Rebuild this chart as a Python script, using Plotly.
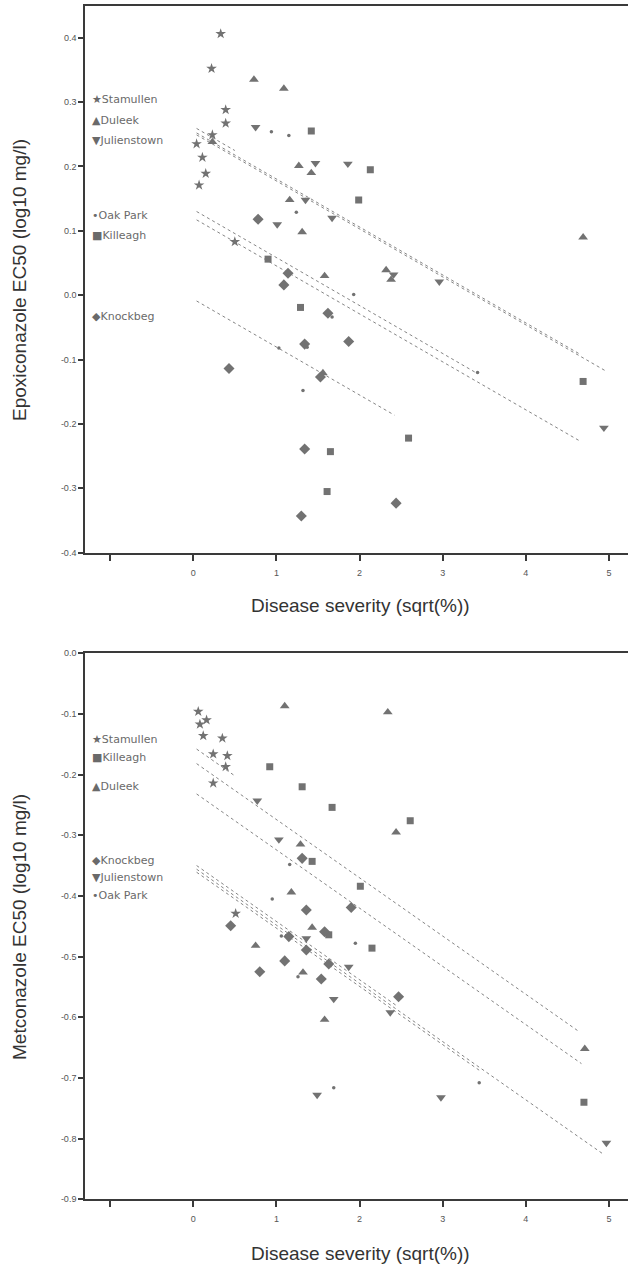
import plotly.graph_objects as go

W, H = 628, 1265
sites = ["Stamullen", "Duleek", "Julienstown", "Oak Park", "Killeagh", "Knockbeg"]
symbols = {"Stamullen": "star", "Duleek": "triangle-up", "Julienstown": "triangle-down",
           "Oak Park": "circle", "Killeagh": "square", "Knockbeg": "diamond"}
sizes = {"Stamullen": 8, "Duleek": 8.5, "Julienstown": 8.5, "Oak Park": 3.5, "Killeagh": 7, "Knockbeg": 8.5}
glyphs = {"Stamullen": "★", "Duleek": "▲", "Julienstown": "▼", "Oak Park": "•", "Killeagh": "■", "Knockbeg": "◆"}

# ---- Epoxiconazole (top) data ----
epo_stamullen_x = [0.33, 0.22, 0.39, 0.39, 0.23, 0.04, 0.11, 0.15, 0.07, 0.50]
epo_stamullen_y = [0.406, 0.352, 0.288, 0.267, 0.249, 0.235, 0.214, 0.189, 0.171, 0.083]
epo_duleek_x = [0.73, 1.09, 0.23, 1.27, 1.42, 1.16, 1.31, 1.58, 2.32, 2.38, 4.69, 1.56]
epo_duleek_y = [0.335, 0.321, 0.238, 0.201, 0.190, 0.148, 0.098, 0.030, 0.039, 0.024, 0.090, -0.121]
epo_julien_x = [0.75, 1.47, 1.86, 1.35, 1.67, 1.01, 2.41, 2.96, 4.94]
epo_julien_y = [0.261, 0.205, 0.204, 0.148, 0.120, 0.110, 0.032, 0.021, -0.206]
epo_oak_x = [0.94, 1.15, 1.24, 1.93, 1.67, 1.03, 1.37, 1.32, 3.42]
epo_oak_y = [0.254, 0.248, 0.129, 0.001, -0.034, -0.082, -0.081, -0.148, -0.120]
epo_kill_x = [1.42, 2.13, 1.99, 0.90, 1.29, 4.69, 2.59, 1.65, 1.61]
epo_kill_y = [0.255, 0.195, 0.148, 0.056, -0.019, -0.134, -0.222, -0.243, -0.305]
epo_knock_x = [0.78, 1.14, 1.09, 1.62, 1.34, 1.87, 0.43, 1.53, 1.34, 2.44, 1.30]
epo_knock_y = [0.118, 0.034, 0.016, -0.028, -0.076, -0.072, -0.114, -0.127, -0.239, -0.323, -0.343]

# common-slope fits: intercept, slope, x-extent
epo_fit_intercept = [0.262, 0.255, 0.252, 0.133, 0.120, -0.006]
epo_fit_slope = [-0.0745, -0.0745, -0.0745, -0.0745, -0.0745, -0.0745]
epo_fit_xmin = [0.04, 0.04, 0.04, 0.04, 0.04, 0.04]
epo_fit_xmax = [0.50, 4.65, 4.95, 3.40, 4.66, 2.42]

# ---- Metconazole (bottom) data ----
met_stamullen_x = [0.06, 0.16, 0.08, 0.12, 0.35, 0.24, 0.41, 0.39, 0.24, 0.51]
met_stamullen_y = [-0.096, -0.110, -0.117, -0.136, -0.140, -0.166, -0.169, -0.187, -0.214, -0.429]
met_duleek_x = [1.10, 2.34, 2.44, 1.29, 1.18, 1.43, 0.75, 1.32, 1.58, 4.71]
met_duleek_y = [-0.087, -0.097, -0.295, -0.315, -0.394, -0.452, -0.482, -0.526, -0.604, -0.652]
met_julien_x = [0.77, 1.03, 1.36, 1.87, 1.69, 2.37, 1.49, 2.98, 4.97]
met_julien_y = [-0.243, -0.307, -0.470, -0.517, -0.570, -0.592, -0.728, -0.732, -0.807]
met_oak_x = [1.16, 0.95, 1.06, 1.95, 1.26, 1.69, 3.44]
met_oak_y = [-0.348, -0.405, -0.466, -0.478, -0.533, -0.716, -0.708]
met_kill_x = [0.92, 1.31, 1.67, 2.61, 1.43, 2.01, 1.63, 2.15, 4.70]
met_kill_y = [-0.187, -0.220, -0.254, -0.276, -0.343, -0.384, -0.464, -0.486, -0.740]
met_knock_x = [1.31, 1.90, 1.36, 0.45, 1.15, 1.58, 1.36, 1.10, 1.63, 0.80, 1.54, 2.47]
met_knock_y = [-0.338, -0.419, -0.423, -0.449, -0.467, -0.459, -0.489, -0.507, -0.512, -0.525, -0.537, -0.566]

met_fit_intercept = [-0.154, -0.228, -0.352, -0.357, -0.178, -0.346]
met_fit_slope = [-0.096, -0.096, -0.096, -0.096, -0.096, -0.096]
met_fit_xmin = [0.04, 0.04, 0.04, 0.04, 0.04, 0.04]
met_fit_xmax = [0.50, 4.67, 4.93, 3.46, 4.65, 2.46]

x_tickvals = [-1, 0, 1, 2, 3, 4, 5]
x_ticktext = ["", "0", "1", "2", "3", "4", "5"]
epo_tickvals = [0.4, 0.3, 0.2, 0.1, 0.0, -0.1, -0.2, -0.3, -0.4]
epo_ticktext = ["0.4", "0.3", "0.2", "0.1", "0.0", "-0.1", "-0.2", "-0.3", "-0.4"]
met_tickvals = [0.0, -0.1, -0.2, -0.3, -0.4, -0.5, -0.6, -0.7, -0.8, -0.9]
met_ticktext = ["0.0", "-0.1", "-0.2", "-0.3", "-0.4", "-0.5", "-0.6", "-0.7", "-0.8", "-0.9"]

epo_data = {"Stamullen": (epo_stamullen_x, epo_stamullen_y), "Duleek": (epo_duleek_x, epo_duleek_y),
            "Julienstown": (epo_julien_x, epo_julien_y), "Oak Park": (epo_oak_x, epo_oak_y),
            "Killeagh": (epo_kill_x, epo_kill_y), "Knockbeg": (epo_knock_x, epo_knock_y)}
met_data = {"Stamullen": (met_stamullen_x, met_stamullen_y), "Duleek": (met_duleek_x, met_duleek_y),
            "Julienstown": (met_julien_x, met_julien_y), "Oak Park": (met_oak_x, met_oak_y),
            "Killeagh": (met_kill_x, met_kill_y), "Knockbeg": (met_knock_x, met_knock_y)}

MARK = "#727272"
LINE = "#858585"
AX = "#3a3a3a"
TXT = "#555555"

def py(p):  # pixel y -> paper
    return 1 - p / H

def px(p):
    return p / W

fig = go.Figure()

def add_panel(data, icpt, slope, xmin, xmax, xa, ya):
    for i, s in enumerate(sites):
        x0, x1 = xmin[i], xmax[i]
        fig.add_trace(go.Scatter(x=[x0, x1], y=[icpt[i] + slope[i] * x0, icpt[i] + slope[i] * x1],
                                 mode="lines", line=dict(color=LINE, width=1, dash="dot"),
                                 xaxis=xa, yaxis=ya, showlegend=False, hoverinfo="skip"))
    for s in sites:
        x, y = data[s]
        fig.add_trace(go.Scatter(x=x, y=y, mode="markers", name=s,
                                 marker=dict(symbol=symbols[s], size=sizes[s], color=MARK,
                                             line=dict(width=0)),
                                 xaxis=xa, yaxis=ya, showlegend=False))

add_panel(epo_data, epo_fit_intercept, epo_fit_slope, epo_fit_xmin, epo_fit_xmax, "x", "y")
add_panel(met_data, met_fit_intercept, met_fit_slope, met_fit_xmin, met_fit_xmax, "x2", "y2")

xdom = [px(85.2), 1.0]
xcommon = dict(range=[-1.3, 5.23], tickvals=x_tickvals, ticktext=x_ticktext, showgrid=False,
               zeroline=False, showline=True, linecolor=AX, linewidth=2, mirror=True,
               ticks="outside", ticklen=6, tickwidth=1.5, tickcolor=AX,
               tickfont=dict(family="Liberation Sans, Arial", size=9, color=TXT),
               ticklabelstandoff=4, domain=xdom)
ycommon = dict(showgrid=False, zeroline=False, showline=True, linecolor=AX, linewidth=2,
               ticks="outside", ticklen=5, tickwidth=1.5, tickcolor=AX, automargin=False,
               tickfont=dict(family="Liberation Sans, Arial", size=9, color=TXT))

fig.update_layout(
    width=W, height=H, margin=dict(l=0, r=0, t=0, b=0, pad=0),
    paper_bgcolor="white", plot_bgcolor="white", showlegend=False,
    xaxis=dict(**xcommon, anchor="y"),
    yaxis=dict(**ycommon, range=[-0.4, 0.45], tickvals=epo_tickvals, ticktext=epo_ticktext,
               domain=[py(552.7), py(5.5)], anchor="x"),
    xaxis2=dict(**xcommon, anchor="y2"),
    yaxis2=dict(**ycommon, range=[-0.9, 0.0], tickvals=met_tickvals, ticktext=met_ticktext,
                domain=[py(1199.3), py(653.3)], anchor="x2"),
)

tfont = dict(family="Liberation Sans, Arial", size=19, color="#333333")
ann = [
    dict(text="Disease severity (sqrt(%))", x=px(360), y=py(605), xref="paper", yref="paper",
         showarrow=False, font=tfont, xanchor="center", yanchor="middle"),
    dict(text="Disease severity (sqrt(%))", x=px(360), y=py(1253), xref="paper", yref="paper",
         showarrow=False, font=tfont, xanchor="center", yanchor="middle"),
    dict(text="Epoxiconazole EC50 (log10 mg/l)", x=px(19), y=py(280), xref="paper", yref="paper",
         showarrow=False, font=tfont, textangle=-90, xanchor="center", yanchor="middle"),
    dict(text="Metconazole EC50 (log10 mg/l)", x=px(19), y=py(927), xref="paper", yref="paper",
         showarrow=False, font=tfont, textangle=-90, xanchor="center", yanchor="middle"),
]

legend_top = [("Stamullen", 100), ("Duleek", 120), ("Julienstown", 140.7),
              ("Oak Park", 215), ("Killeagh", 235), ("Knockbeg", 316)]
legend_bot = [("Stamullen", 739.3), ("Killeagh", 757.3), ("Duleek", 786.7),
              ("Knockbeg", 860), ("Julienstown", 877.7), ("Oak Park", 895)]
lfont = dict(family="DejaVu Sans, Liberation Sans", size=11, color="#6a6a6a")
for name, yy in legend_top + legend_bot:
    ann.append(dict(text=glyphs[name] + name, x=px(90), y=py(yy), xref="paper", yref="paper",
                    showarrow=False, font=lfont, xanchor="left", yanchor="middle"))

fig.update_layout(annotations=ann)
fig.write_html("out.html", config={"displayModeBar": False},
               post_script="document.body.style.margin='0';document.body.style.padding='0';")
